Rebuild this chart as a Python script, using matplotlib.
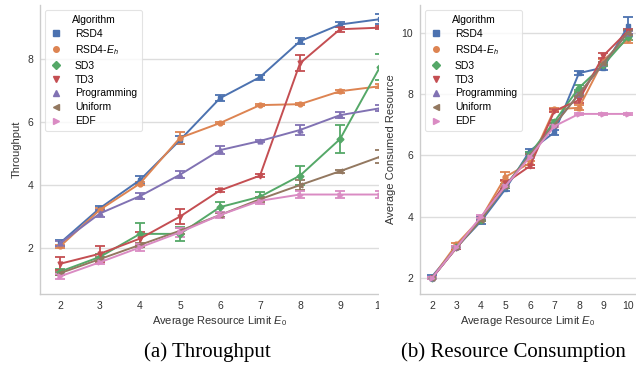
import numpy as np
import matplotlib
matplotlib.use('Agg')
import matplotlib.pyplot as plt
from matplotlib.patches import Rectangle

# data
limits = [2, 3, 4, 5, 6, 7, 8, 9, 10]
algorithms = ['RSD4', 'RSD4-$E_h$', 'SD3', 'TD3', 'Programming', 'Uniform', 'EDF']

throughput = {
    'RSD4':        [2.16, 3.27, 4.16, 5.43, 6.76, 7.43, 8.57, 9.10, 9.27],
    'RSD4-$E_h$':  [2.05, 3.22, 4.05, 5.50, 5.97, 6.54, 6.57, 6.98, 7.14],
    'SD3':         [1.25, 1.72, 2.45, 2.45, 3.30, 3.63, 4.30, 5.46, 7.75],
    'TD3':         [1.50, 1.82, 2.30, 3.00, 3.83, 4.30, 7.87, 8.95, 9.00],
    'Programming': [2.15, 3.10, 3.65, 4.33, 5.11, 5.40, 5.75, 6.22, 6.44],
    'Uniform':     [1.20, 1.65, 2.10, 2.55, 3.05, 3.55, 4.00, 4.44, 4.90],
    'EDF':         [1.10, 1.55, 2.02, 2.50, 3.05, 3.50, 3.70, 3.70, 3.70],
}
throughput_err = {
    'RSD4':        [0.08, 0.06, 0.12, 0.12, 0.10, 0.08, 0.10, 0.08, 0.15],
    'RSD4-$E_h$':  [0.06, 0.05, 0.06, 0.20, 0.04, 0.03, 0.04, 0.04, 0.06],
    'SD3':         [0.10, 0.10, 0.35, 0.22, 0.15, 0.15, 0.30, 0.45, 0.40],
    'TD3':         [0.20, 0.25, 0.22, 0.25, 0.04, 0.04, 0.25, 0.08, 0.05],
    'Programming': [0.08, 0.10, 0.10, 0.12, 0.12, 0.04, 0.15, 0.10, 0.10],
    'Uniform':     [0.05, 0.06, 0.06, 0.10, 0.05, 0.08, 0.15, 0.05, 0.20],
    'EDF':         [0.07, 0.06, 0.12, 0.15, 0.10, 0.10, 0.12, 0.12, 0.10],
}

consumed = {
    'RSD4':        [2.05, 3.00, 3.85, 4.90, 6.15, 6.75, 8.68, 8.86, 10.20],
    'RSD4-$E_h$':  [2.00, 3.10, 3.95, 5.30, 5.75, 7.50, 7.55, 9.10, 9.80],
    'SD3':         [2.00, 3.00, 3.90, 5.00, 6.05, 7.10, 8.20, 8.95, 9.85],
    'TD3':         [2.00, 2.98, 3.95, 5.10, 5.65, 7.45, 7.80, 9.25, 10.05],
    'Programming': [2.00, 3.00, 3.95, 5.00, 6.00, 7.00, 8.00, 9.00, 10.00],
    'Uniform':     [2.00, 3.00, 3.90, 5.00, 6.00, 7.00, 8.00, 9.00, 10.00],
    'EDF':         [2.00, 3.00, 4.00, 5.00, 5.95, 6.95, 7.35, 7.35, 7.35],
}
consumed_err = {
    'RSD4':        [0.05, 0.04, 0.08, 0.05, 0.05, 0.08, 0.06, 0.08, 0.30],
    'RSD4-$E_h$':  [0.03, 0.05, 0.05, 0.15, 0.05, 0.05, 0.08, 0.05, 0.15],
    'SD3':         [0.03, 0.03, 0.05, 0.05, 0.05, 0.05, 0.08, 0.05, 0.08],
    'TD3':         [0.03, 0.03, 0.05, 0.08, 0.05, 0.05, 0.10, 0.08, 0.08],
    'Programming': [0.02, 0.03, 0.04, 0.04, 0.04, 0.04, 0.04, 0.04, 0.05],
    'Uniform':     [0.02, 0.03, 0.05, 0.04, 0.04, 0.04, 0.06, 0.04, 0.08],
    'EDF':         [0.02, 0.03, 0.04, 0.04, 0.04, 0.04, 0.04, 0.04, 0.04],
}

colors = ['#4C72B0', '#DD8452', '#55A868', '#C44E52', '#8172B3', '#937860', '#DA8BC3']
markers = ['s', 'o', 'D', 'v', '^', '<', '>']

plt.rcParams['font.family'] = ['Liberation Sans', 'DejaVu Sans']
plt.rcParams['mathtext.fontset'] = 'custom'
plt.rcParams['mathtext.it'] = 'Liberation Sans:italic'
plt.rcParams['mathtext.rm'] = 'Liberation Sans'

W, H = 636, 369
fig = plt.figure(figsize=(W / 100, H / 100), dpi=100)


def style_axes(ax, ylabel):
    ax.set_facecolor('white')
    for side in ['top', 'right']:
        ax.spines[side].set_visible(False)
    for side in ['left', 'bottom']:
        ax.spines[side].set_color('#cccccc')
        ax.spines[side].set_linewidth(1.0)
    ax.yaxis.grid(True, color='#dddddd', linewidth=1.0)
    ax.set_axisbelow(True)
    ax.tick_params(length=0, labelsize=7.5, colors='#333333', pad=5)
    ax.set_xlabel('Average Resource Limit $E_0$', fontsize=8, color='#333333', labelpad=2)
    ax.set_ylabel(ylabel, fontsize=8, color='#333333', labelpad=4)


def draw_lines(ax, values, errors):
    handles = []
    for idx, name in enumerate(algorithms):
        ax.errorbar(limits, values[name], yerr=errors[name],
                    color=colors[idx], marker=markers[idx], markersize=3.5,
                    linewidth=1.4, elinewidth=1.3, capsize=3.8, capthick=1.3)
        h, = ax.plot([], [], linestyle='none', marker=markers[idx],
                     color=colors[idx], markersize=4, label=name)
        handles.append(h)
    leg = ax.legend(handles=handles, title='Algorithm', loc='upper left',
                    fontsize=7.5, title_fontsize=7.5, frameon=True,
                    handlelength=1.2, handletextpad=1.2, labelspacing=0.38,
                    borderpad=0.45, bbox_to_anchor=(0.0, 1.0))
    leg.get_frame().set_edgecolor('#dddddd')
    leg.get_frame().set_linewidth(0.8)


# (a) throughput, clipped on the right like the reference
ax1 = fig.add_axes([40 / W, 75 / H, 360 / W, 289 / H])
style_axes(ax1, 'Throughput')
draw_lines(ax1, throughput, throughput_err)
ax1.set_xlim(1.5, 10.5)
ax1.set_ylim(0.54, 9.72)
ax1.set_xticks(limits)
ax1.set_yticks([2, 4, 6, 8])

fig.patches.append(Rectangle((379 / W, 0), 1, 1, transform=fig.transFigure,
                             facecolor='white', edgecolor='none', zorder=1))

# (b) resource consumption
ax2 = fig.add_axes([420 / W, 75 / H, 216 / W, 289 / H])
ax2.set_zorder(2)
style_axes(ax2, 'Average Consumed Resource')
draw_lines(ax2, consumed, consumed_err)
ax2.set_xlim(1.51, 10.33)
ax2.set_ylim(1.48, 10.9)
ax2.set_xticks(limits)
ax2.set_yticks([2, 4, 6, 8, 10])

fig.text(207 / W, (H - 352) / H, '(a) Throughput', ha='center', va='center',
         fontsize=15, family='Liberation Serif', color='black', zorder=3)
fig.text(513 / W, (H - 352) / H, '(b) Resource Consumption', ha='center', va='center',
         fontsize=15, family='Liberation Serif', color='black', zorder=3)

fig.savefig('out.png', dpi=100)
